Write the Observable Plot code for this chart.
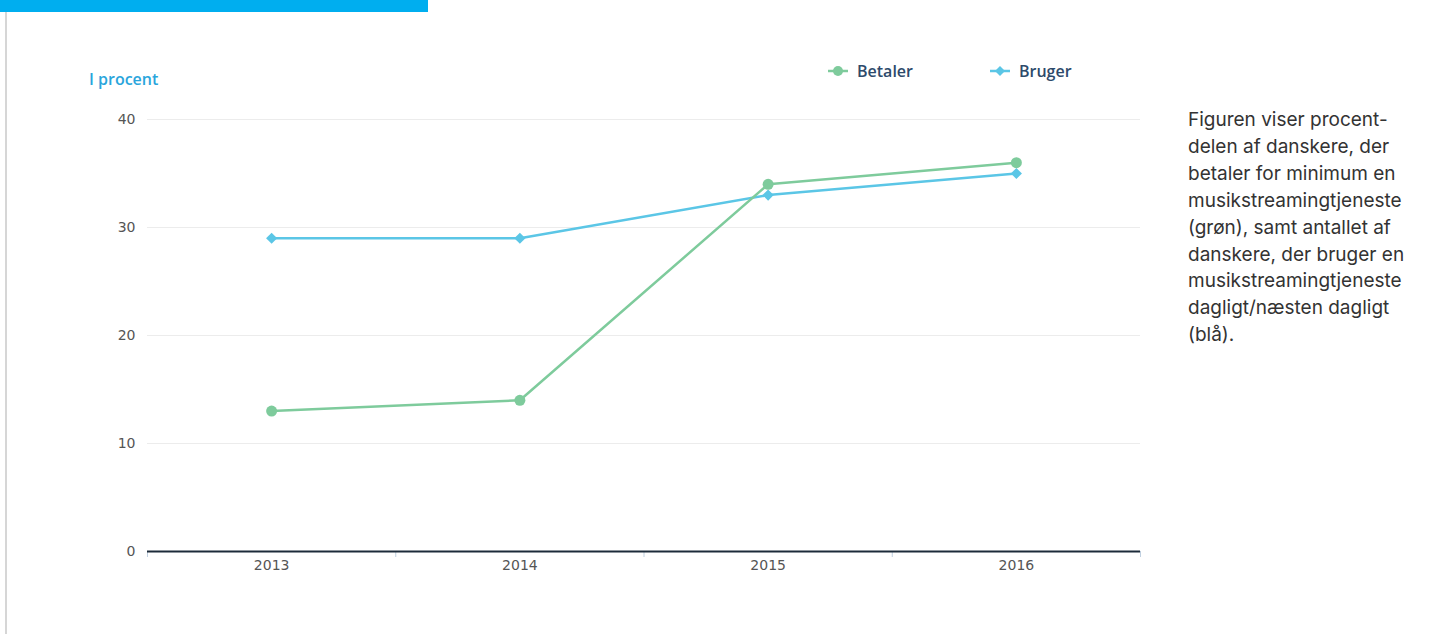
<!DOCTYPE html>
<html>
<head>
<meta charset="utf-8">
<script src="https://cdn.jsdelivr.net/npm/d3@7"></script>
<script src="https://cdn.jsdelivr.net/npm/@observablehq/plot@0.6"></script>
<style>
  html, body { margin: 0; padding: 0; background: #fff; width: 1440px; height: 634px; overflow: hidden; }
  #wrap { position: relative; width: 1440px; height: 634px; }
  #topbar { position: absolute; left: 0; top: 0; width: 428px; height: 12px; background: #00aeef; }
  #leftline { position: absolute; left: 5px; top: 12px; width: 2px; height: 622px; background: #d6d6d6; }
  #chart { position: absolute; left: 0; top: 0; }
  #ylabel { position: absolute; left: 89px; top: 68px; font-family: "Open Sans", sans-serif; font-size: 16px; color: #29a5dc; font-weight: 600; }
  .leg { position: absolute; top: 60px; font-family: "Open Sans", sans-serif; font-size: 16px; font-weight: 600; color: #2d4a6b; display: flex; align-items: center; }
  .leg svg { margin-right: 9px; }
  #note { position: absolute; left: 1188px; top: 107px; width: 250px; font-family: Inter, "Noto Sans", sans-serif; font-size: 19px; line-height: 26.9px; color: #333; }
</style>
</head>
<body>
<div id="wrap">
  <div id="topbar"></div>
  <div id="leftline"></div>
  <div id="chart"></div>
  <div id="ylabel">I procent</div>
  <div class="leg" id="leg1" style="left:828px;"></div>
  <div class="leg" id="leg2" style="left:990px;"></div>
  <div id="note">Figuren viser procent-<br>delen af danskere, der<br>betaler for minimum en<br>musikstreamingtjeneste<br>(grøn), samt antallet af<br>danskere, der bruger en<br>musikstreamingtjeneste<br>dagligt/næsten dagligt<br>(blå).</div>
</div>
<script>
const years = [2013, 2014, 2015, 2016];
const betaler = [13, 14, 34, 36];
const bruger = [29, 29, 33, 35];
const yTicks = [0, 10, 20, 30, 40];
const seriesNames = ["Betaler", "Bruger"];
const greenColor = "#7ecb9c";
const blueColor = "#5bc6e6";

const dataB = years.map((y, i) => ({year: y, value: betaler[i]}));
const dataU = years.map((y, i) => ({year: y, value: bruger[i]}));
const boundaries = [years[0] - 0.5, ...years.map(y => y + 0.5)];

const chart = Plot.plot({
  width: 1440,
  height: 634,
  marginLeft: 147,
  marginRight: 300,
  marginTop: 119,
  marginBottom: 83,
  style: {fontFamily: "DejaVu Sans, sans-serif", fontSize: "14px", color: "#555", background: "transparent"},
  x: {domain: [years[0] - 0.5, years[years.length - 1] + 0.5], axis: null},
  y: {domain: [0, 40], axis: null},
  marks: [
    Plot.gridY(yTicks.filter(d => d > 0), {stroke: "#ececec", strokeOpacity: 1, strokeWidth: 1}),
    Plot.axisY(yTicks, {tickSize: 0, tickPadding: 12, fill: "#555", fontSize: 14, label: null}),
    Plot.axisX(boundaries, {tickSize: 6, stroke: "#c0d0e0", tickFormat: () => "", anchor: "bottom", label: null}),
    Plot.axisX(years, {tickSize: 0, tickPadding: 9, tickFormat: "d", fill: "#555", fontSize: 14, label: null}),
    Plot.ruleY([0], {stroke: "#1c2b3a", strokeWidth: 2}),
    Plot.line(dataU, {x: "year", y: "value", stroke: blueColor, strokeWidth: 2.5}),
    Plot.line(dataB, {x: "year", y: "value", stroke: greenColor, strokeWidth: 2.5}),
    Plot.dot(dataU, {x: "year", y: "value", symbol: "diamond2", r: 5, fill: blueColor, stroke: blueColor, strokeWidth: 0}),
    Plot.dot(dataB, {x: "year", y: "value", symbol: "circle", r: 5.5, fill: greenColor, stroke: greenColor, strokeWidth: 0})
  ]
});
document.getElementById("chart").appendChild(chart);

function legendItem(el, name, color, shape) {
  const m = shape === "circle"
    ? `<circle cx="10" cy="10" r="5" fill="${color}"/>`
    : `<path d="M10 5 L15 10 L10 15 L5 10 Z" fill="${color}"/>`;
  el.innerHTML = `<svg width="20" height="20"><line x1="0" y1="10" x2="20" y2="10" stroke="${color}" stroke-width="2.5"/>${m}</svg><span>${name}</span>`;
}
legendItem(document.getElementById("leg1"), seriesNames[0], greenColor, "circle");
legendItem(document.getElementById("leg2"), seriesNames[1], blueColor, "diamond");
</script>
</body>
</html>
